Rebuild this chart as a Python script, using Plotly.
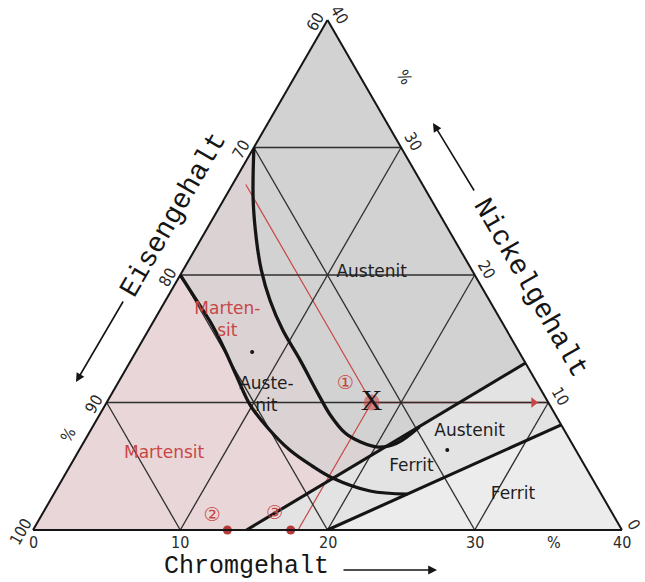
import plotly.graph_objects as go

# ---------------- axis labelling (wt-%) ----------------
fe_ticks = [100, 90, 80, 70, 60]     # iron scale along the left edge
cr_ticks = [0, 10, 20, 30, 40]       # chromium scale along the bottom edge
ni_ticks = [0, 10, 20, 30, 40]       # nickel scale along the right edge

grid_steps = [10, 20, 30]

# ---------------- phase boundaries, given as (Ni, Cr) in wt-% ----------------
# austenite / austenite+martensite boundary
curve_a_ni = [30.0, 25.9, 22.75, 20.4, 18.0, 15.7, 13.3, 10.6, 9.0, 7.6, 6.9, 6.5, 6.8, 8.1]
curve_a_cr = [0.0, 2.0, 3.8, 5.3, 7.1, 9.1, 11.5, 14.1, 15.7, 17.4, 18.8, 20.2, 21.3, 22.2]
# martensite boundary
curve_b_ni = [20.0, 18.2, 16.3, 14.3, 12.0, 9.8, 8.0, 6.27, 5.02, 4.08, 3.06, 2.82]
curve_b_cr = [0.0, 1.9, 3.9, 5.8, 7.85, 9.85, 11.95, 14.3, 16.45, 18.3, 21.36, 24.02]
# straight boundaries of the ferrite fields
line_c_ni = [0.0, 13.1]
line_c_cr = [14.5, 26.9]
line_d_ni = [0.0, 8.25]
line_d_cr = [20.0, 31.75]

# example alloy (18/8 steel)
alloy_ni = 10.0
alloy_cr = 18.0
alloy_fe = 72.0

# marked compositions on the chromium axis
marked_cr = [13.2, 17.5]

# field labels
label_text = ["Austenit", "Marten-<br>sit", "Auste-<br>nit", "Martensit",
              "Austenit", "Ferrit", "Ferrit"]
label_ni = [20.2, 16.4, 10.5, 6.0, 7.7, 5.0, 2.8]
label_cr = [12.9, 5.0, 10.6, 5.9, 25.8, 23.2, 31.2]
label_red = [False, True, False, True, False, False, False]

number_text = ["\u2460", "\u2461", "\u2462"]
number_ni = [11.4, 1.1, 1.2]
number_cr = [15.5, 11.6, 15.8]

dot_ni = [13.96, 6.27]
dot_cr = [7.9, 25.0]

BLACK = "#151515"
RED = "#c94646"
LABEL_FONT = "DejaVu Sans, sans-serif"
TICK_FONT = "Liberation Sans Narrow, DejaVu Sans Condensed, DejaVu Sans, sans-serif"
TITLE_FONT = "Liberation Mono, DejaVu Sans Mono, monospace"


def fe(ni, cr):
    return [100 - n - c for n, c in zip(ni, cr)]


def to_paper(ni, cr):
    # position inside the plotting area of a composition (triangle spans the whole area)
    return (cr + ni / 2) / 40, ni / 40


def line_c(ni):
    return line_c_cr[0] + (line_c_cr[1] - line_c_cr[0]) * (ni - line_c_ni[0]) / (line_c_ni[1] - line_c_ni[0])


# crossing of the martensite curve with the straight line C
f = [c - line_c(n) for n, c in zip(curve_b_ni, curve_b_cr)]
k = next(i for i in range(len(f) - 1) if f[i] < 0 <= f[i + 1])
t = f[k] / (f[k] - f[k + 1])
p_ni = curve_b_ni[k] + t * (curve_b_ni[k + 1] - curve_b_ni[k])
p_cr = curve_b_cr[k] + t * (curve_b_cr[k + 1] - curve_b_cr[k])

fig = go.Figure()


def area(ni, cr, color):
    fig.add_trace(go.Scatterternary(
        a=ni, b=fe(ni, cr), c=cr, mode="lines", fill="toself",
        fillcolor=color, line=dict(width=0), hoverinfo="skip"))


def path(ni, cr, color, width, shape="linear"):
    fig.add_trace(go.Scatterternary(
        a=ni, b=fe(ni, cr), c=cr, mode="lines",
        line=dict(color=color, width=width, shape=shape), hoverinfo="skip"))


# phase fields
area(curve_a_ni + [line_c_ni[1], 40.0], curve_a_cr + [line_c_cr[1], 0.0], "#d2d2d2")
area([0.0] + curve_b_ni[:k + 1] + [p_ni, line_c_ni[0]],
     [0.0] + curve_b_cr[:k + 1] + [p_cr, line_c_cr[0]], "#e9d6d8")
area(curve_a_ni + [p_ni] + curve_b_ni[:k + 1][::-1],
     curve_a_cr + [p_cr] + curve_b_cr[:k + 1][::-1], "#dbd2d3")
area([line_d_ni[0], line_d_ni[1], 0.0], [line_d_cr[0], line_d_cr[1], 40.0], "#ececec")

# reading lines for the example alloy
path([alloy_ni, 100 - alloy_fe - 0.9], [alloy_cr, 0.9], RED, 1.2)
path([alloy_ni, 0.0], [alloy_cr, alloy_cr], RED, 1.2)
path([alloy_ni, alloy_ni], [alloy_cr, 40 - alloy_ni], RED, 1.4)

# 10 % grid
for v in grid_steps:
    path([v, v], [0.0, 40.0 - v], "#2e2e2e", 1.3)       # constant Ni
    path([0.0, 40.0 - v], [v, v], "#2e2e2e", 1.3)       # constant Cr
    path([v, 0.0], [0.0, v], "#2e2e2e", 1.3)            # constant Fe

# phase boundaries
path(curve_a_ni, curve_a_cr, BLACK, 3.3, shape="spline")
path(curve_b_ni, curve_b_cr, BLACK, 3.3, shape="spline")
path(line_c_ni, line_c_cr, BLACK, 3.1)
path(line_d_ni, line_d_cr, BLACK, 3.1)

# arrow head of the nickel reading line
fig.add_trace(go.Scatterternary(
    a=[alloy_ni], b=fe([alloy_ni], [40 - alloy_ni - 1.0]), c=[40 - alloy_ni - 1.0],
    mode="markers", marker=dict(symbol="triangle-right", size=9, color=RED),
    hoverinfo="skip"))

# field labels
for txt, n, c, red in zip(label_text, label_ni, label_cr, label_red):
    fig.add_trace(go.Scatterternary(
        a=[n], b=fe([n], [c]), c=[c], mode="text", text=[txt],
        textfont=dict(family=LABEL_FONT, size=17, color=RED if red else "#1e1e1e"),
        hoverinfo="skip"))

fig.add_trace(go.Scatterternary(
    a=number_ni, b=fe(number_ni, number_cr), c=number_cr, mode="text", text=number_text,
    textfont=dict(family="DejaVu Sans, Noto Sans CJK JP", size=19, color=RED),
    hoverinfo="skip"))

fig.add_trace(go.Scatterternary(
    a=dot_ni, b=fe(dot_ni, dot_cr), c=dot_cr, mode="markers",
    marker=dict(size=4, color=BLACK), hoverinfo="skip"))

fig.add_trace(go.Scatterternary(
    a=[0.0] * len(marked_cr), b=fe([0.0] * len(marked_cr), marked_cr), c=marked_cr,
    mode="markers", cliponaxis=False,
    marker=dict(size=9, color="#b83838"), hoverinfo="skip"))

# the example alloy itself
fig.add_trace(go.Scatterternary(
    a=[alloy_ni], b=fe([alloy_ni], [alloy_cr]), c=[alloy_cr], mode="markers+text",
    text=["X"], textposition="middle center",
    textfont=dict(family="Liberation Serif, DejaVu Serif, serif", size=30, color=BLACK),
    marker=dict(size=16, color="rgba(205,70,70,0.55)"), hoverinfo="skip"))

# ---------------- edge scales ----------------
tick_font = dict(family=TICK_FONT, size=16, color="#2a2a2a")
annotations = []


def edge_label(text, ni, cr, dx, dy, angle):
    x, y = to_paper(ni, cr)
    annotations.append(dict(text=text, x=x, y=y, xref="paper", yref="paper",
                            xanchor="center", yanchor="middle", xshift=dx, yshift=dy,
                            textangle=angle, showarrow=False, font=tick_font))


for v in fe_ticks:
    edge_label(str(v), 100 - v, 0.0, -13, -2, -60)
for v in cr_ticks:
    edge_label(str(v), 0.0, v, 0, -12, 0)
for v in ni_ticks:
    edge_label(str(v), v, 40.0 - v, 12, 6, 60)

# percent signs beside the scales
edge_label("%", 7.5, 0.0, -20, 0, -60)
edge_label("%", 0.0, 35.4, 0, -12, 0)
edge_label("%", 35.6, 4.4, 45, -1, 60)


def title(text, px, py, angle, size):
    annotations.append(dict(text=text, x=(px - 33) / 589, y=(530 - py) / 510,
                            xref="paper", yref="paper", xanchor="center", yanchor="middle",
                            showarrow=False, textangle=angle,
                            font=dict(family=TITLE_FONT, size=size, color=BLACK)))


def arrow(hx, hy, tx, ty):
    annotations.append(dict(text="", x=(hx - 33) / 589, y=(530 - hy) / 510,
                            xref="paper", yref="paper", showarrow=True,
                            ax=tx - hx, ay=ty - hy, arrowhead=2, arrowsize=1.1,
                            arrowwidth=1.6, arrowcolor=BLACK))


title("Eisengehalt", 173, 215, -60, 28)
arrow(76, 382, 124, 300)
title("Nickelgehalt", 531, 288, 60, 28)
arrow(433, 123, 475, 192)
title("Chromgehalt", 246, 566, 0, 25)
arrow(437, 570, 342, 570)

axis_common = dict(showgrid=False, showticklabels=False, ticks="",
                   linecolor=BLACK, linewidth=2, title=dict(text=""))

fig.update_layout(
    width=645, height=582,
    margin=dict(l=33, r=23, t=20, b=52),
    paper_bgcolor="white",
    showlegend=False,
    ternary=dict(
        sum=100,
        bgcolor="#e3e3e3",
        aaxis=dict(min=0, **axis_common),
        baxis=dict(min=60, **axis_common),
        caxis=dict(min=0, **axis_common),
    ),
    annotations=annotations,
)

fig.write_html("out.html")
